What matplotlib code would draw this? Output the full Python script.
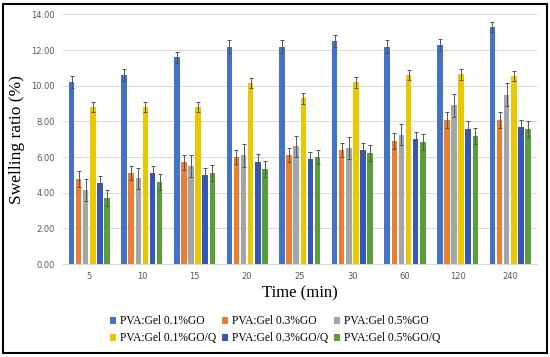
import numpy as np
import matplotlib
matplotlib.use("Agg")
import matplotlib.pyplot as plt
from matplotlib.patches import Rectangle

times = ["5", "10", "15", "20", "25", "30", "60", "120", "240"]
series = ["PVA:Gel 0.1%GO", "PVA:Gel 0.3%GO", "PVA:Gel 0.5%GO",
          "PVA:Gel 0.1%GO/Q", "PVA:Gel 0.3%GO/Q", "PVA:Gel 0.5%GO/Q"]

go01 = [10.2, 10.6, 11.6, 12.2, 12.2, 12.5, 12.2, 12.3, 13.3]
go03 = [4.75, 5.1, 5.7, 6.0, 6.1, 6.4, 6.9, 8.1, 8.1]
go05 = [4.15, 4.8, 5.5, 6.1, 6.6, 6.5, 7.25, 8.9, 9.5]
goq01 = [8.8, 8.8, 8.8, 10.15, 9.3, 10.2, 10.6, 10.65, 10.55]
goq03 = [4.55, 5.1, 5.0, 5.7, 5.9, 6.4, 7.0, 7.6, 7.7]
goq05 = [3.7, 4.6, 5.1, 5.35, 6.0, 6.25, 6.85, 7.2, 7.6]

err01 = [0.35, 0.35, 0.3, 0.35, 0.35, 0.35, 0.35, 0.35, 0.3]
err03 = [0.45, 0.4, 0.4, 0.4, 0.4, 0.4, 0.45, 0.45, 0.45]
err05 = [0.6, 0.6, 0.6, 0.65, 0.6, 0.6, 0.6, 0.65, 0.65]
errq01 = [0.3, 0.3, 0.3, 0.3, 0.3, 0.3, 0.3, 0.3, 0.3]
errq03 = [0.4, 0.4, 0.4, 0.45, 0.4, 0.4, 0.4, 0.4, 0.4]
errq05 = [0.45, 0.45, 0.45, 0.45, 0.4, 0.45, 0.45, 0.45, 0.45]

values = [go01, go03, go05, goq01, goq03, goq05]
errors = [err01, err03, err05, errq01, errq03, errq05]
colors = ["#4472C4", "#ED7D31", "#A5A5A5", "#E8C800", "#3358B8", "#5A9E3C"]

fig = plt.figure(figsize=(5.5, 3.57), dpi=100)
ax = fig.add_axes([0.1145, 0.2605, 0.861, 0.699])

x = np.arange(len(times))
pitch = 0.135
width = 0.105
handles = []
for i, (vals, errs, c) in enumerate(zip(values, errors, colors)):
    pos = x + (i - 2.5) * pitch
    h = ax.bar(pos, vals, width, color=c, label=series[i], zorder=3)
    handles.append(h)
    ax.errorbar(pos, vals, yerr=errs, fmt="none", ecolor="#555555",
                elinewidth=0.7, capsize=1.5, capthick=0.7, zorder=4)

ax.set_ylim(0, 14)
ax.set_xlim(-0.5, len(times) - 0.5)
ax.set_yticks(np.arange(0, 14.01, 2))
ax.set_yticklabels(["%.2f" % v for v in np.arange(0, 14.01, 2)])
ax.set_xticks(x)
ax.set_xticklabels(times)
ax.tick_params(length=0, labelsize=6, colors="#595959", pad=6)
ax.grid(axis="y", color="#D9D9D9", linewidth=0.7, zorder=0)
for s in ["top", "right", "left"]:
    ax.spines[s].set_visible(False)
ax.spines["bottom"].set_color("#D9D9D9")

ax.set_ylabel("Swelling ratio (%)", family="Liberation Serif", fontsize=12.5)
ax.yaxis.set_label_coords(-0.08, 0.5)
ax.set_xlabel("Time (min)", family="Liberation Serif", fontsize=12, labelpad=3)

# row-wise legend order
order = [0, 3, 1, 4, 2, 5]
fig.legend([handles[k] for k in order], [series[k] for k in order],
           loc="center", bbox_to_anchor=(0.5, 0.076), ncol=3,
           frameon=False, prop={"family": "Liberation Serif", "size": 8.3},
           handlelength=0.55, handleheight=0.55, handletextpad=0.3,
           columnspacing=0.5, labelspacing=0.45, borderpad=0)

fig.patches.append(Rectangle((0.006, 0.012), 0.988, 0.976, transform=fig.transFigure,
                             fill=False, edgecolor="black", linewidth=1.5))

fig.savefig("out.png", dpi=100)
